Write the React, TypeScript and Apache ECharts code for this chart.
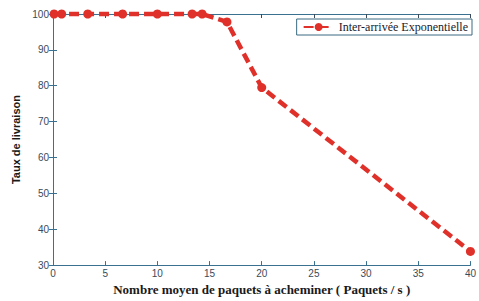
import React, { useEffect, useRef } from "react";
import * as echarts from "echarts";

const xValues = [0.1, 0.83, 3.33, 6.67, 10, 13.33, 14.29, 16.67, 20, 40];
const yValues = [100, 100, 100, 100, 100, 100, 100, 97.8, 79.5, 33.8];
const seriesName = "Inter-arrivée Exponentielle";
const xTitle = "Nombre moyen de paquets à acheminer ( Paquets / s )";
const yTitle = "Taux de livraison";

export default function App() {
  const ref = useRef<HTMLDivElement>(null);
  useEffect(() => {
    if (!ref.current) return;
    const chart = echarts.init(ref.current, undefined, { renderer: "svg" });
    const red = "#e0302a";
    const labelColor = "#3a4a5a";
    chart.setOption({
      animation: false,
      backgroundColor: "#ffffff",
      grid: { left: 53, right: 4, top: 14, bottom: 27, show: false },
      legend: {
        data: [seriesName],
        top: 19,
        right: 7,
        orient: "horizontal",
        backgroundColor: "#ffffff",
        borderColor: "#3a6a80",
        borderWidth: 1,
        borderRadius: 0,
        padding: [2, 4, 2, 6],
        itemWidth: 30,
        itemHeight: 10,
        itemGap: 4,
        textStyle: { fontFamily: "Liberation Serif", fontSize: 12, color: "#1a1a2a" },
      },
      xAxis: [
        {
          type: "value",
          min: 0,
          max: 40,
          interval: 5,
          name: xTitle,
          nameLocation: "middle",
          nameGap: 12,
          nameTextStyle: { fontFamily: "Liberation Serif", fontWeight: "bold", fontSize: 13, color: "#1a1a1a" },
          axisLine: { show: true, lineStyle: { color: "#3a7090", width: 1 } },
          axisTick: { inside: true, length: 4, lineStyle: { color: "#3a7090" } },
          axisLabel: { margin: 3, fontSize: 10, fontFamily: "Liberation Sans", color: labelColor },
          splitLine: { show: false },
        },
        {
          type: "value",
          position: "top",
          min: 0,
          max: 40,
          interval: 5,
          axisLine: { show: true, lineStyle: { color: "#3a7090", width: 1 } },
          axisTick: { inside: true, length: 4, lineStyle: { color: "#3a4a5a" } },
          axisLabel: { show: false },
          splitLine: { show: false },
        },
      ],
      yAxis: [
        {
          type: "value",
          min: 30,
          max: 100,
          interval: 10,
          name: yTitle,
          nameLocation: "middle",
          nameGap: 29,
          nameTextStyle: { fontFamily: "Liberation Sans", fontWeight: "bold", fontSize: 11, color: "#1a1a1a" },
          axisLine: { show: true, lineStyle: { color: "#7a4a40", width: 1 } },
          axisTick: { inside: true, length: 4, lineStyle: { color: "#3a7090" } },
          axisLabel: { margin: 4, fontSize: 10, fontFamily: "Liberation Sans", color: labelColor },
          splitLine: { show: false },
        },
        {
          type: "value",
          position: "right",
          min: 30,
          max: 100,
          interval: 10,
          axisLine: { show: true, lineStyle: { color: "#3a7090", width: 1 } },
          axisTick: { inside: true, length: 4, lineStyle: { color: "#3a7090" } },
          axisLabel: { show: false },
          splitLine: { show: false },
        },
      ],
      series: [
        {
          name: seriesName,
          type: "line",
          xAxisIndex: 0,
          yAxisIndex: 0,
          data: xValues.map((x, i) => [x, yValues[i]]),
          symbol: "circle",
          symbolSize: 9,
          smooth: false,
          clip: false,
          itemStyle: { color: red },
          lineStyle: { color: red, width: 4.5, type: [10, 5] },
          z: 5,
        },
      ],
    });
    return () => chart.dispose();
  }, []);
  return <div ref={ref} style={{ width: 479, height: 301, position: "absolute", left: 0, top: 0 }} />;
}
